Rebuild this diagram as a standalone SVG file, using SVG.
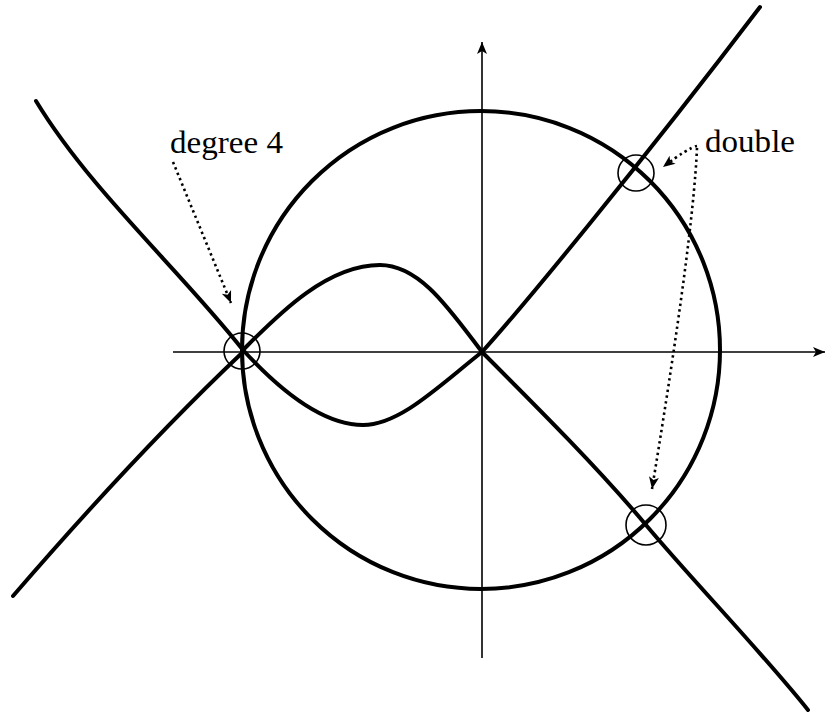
<svg xmlns="http://www.w3.org/2000/svg" width="827" height="713" viewBox="0 0 827 713">
<style>
.axis{fill:none;stroke:#000;stroke-width:1.6}
.curve{fill:none;stroke:#000;stroke-width:4;stroke-linecap:round;stroke-linejoin:round}
.mark{fill:none;stroke:#000;stroke-width:1.6}
.ptr{fill:none;stroke:#000;stroke-width:2.6;stroke-dasharray:2.4 3.4}
.lbl{font-family:"Liberation Serif","DejaVu Serif",serif;font-size:31px;fill:#000}
</style>
<defs>
<marker id="ah" viewBox="-13 -6 15 12" markerWidth="15" markerHeight="12" refX="0" refY="0" orient="auto" markerUnits="userSpaceOnUse">
<path d="M0,0 L-12,-5 L-9,0 L-12,5 Z" fill="#000"/>
</marker>
</defs>
<rect width="827" height="713" fill="#fff"/>
<g id="axes">
<line class="axis" x1="173" y1="352" x2="825" y2="352" marker-end="url(#ah)"/>
<line class="axis" x1="482" y1="658" x2="482" y2="42" marker-end="url(#ah)"/>
</g>
<g id="circle">
<circle class="curve" cx="481" cy="350" r="239"/>
</g>
<g id="curve">
<path class="curve" d="M36,101 C90,190 180,270 243,350"/>
<path class="curve" d="M243,350 C275,385 320,425 363,425 C400,425 440,385 482,352"/>
<path class="curve" d="M243,350 C275,318 325,265 380,265 C420,265 450,310 482,352"/>
<path class="curve" d="M13,596 C70,530 150,440 243,352"/>
<path class="curve" d="M482,352 C520,310 640,165 760,7"/>
<path class="curve" d="M482,352 C540,410 600,470 646,525 S760,650 808,710"/>
</g>
<g id="points">
<circle class="mark" cx="242" cy="351" r="18"/>
<circle class="mark" cx="636" cy="173" r="18"/>
<circle class="mark" cx="646" cy="525" r="20"/>
</g>
<g id="label-degree4">
<text class="lbl" x="170" y="153" textLength="113" lengthAdjust="spacingAndGlyphs">degree 4</text>
</g>
<g id="label-double">
<text class="lbl" x="705" y="152" textLength="90" lengthAdjust="spacingAndGlyphs">double</text>
</g>
<g id="connectors">
<path class="ptr" d="M173,162 L231,303" marker-end="url(#ah)"/>
<path class="ptr" d="M697,146 Q688,148 663,167" marker-end="url(#ah)"/>
<path class="ptr" d="M697,148 Q693,240 652,489" marker-end="url(#ah)"/>
</g>
</svg>
